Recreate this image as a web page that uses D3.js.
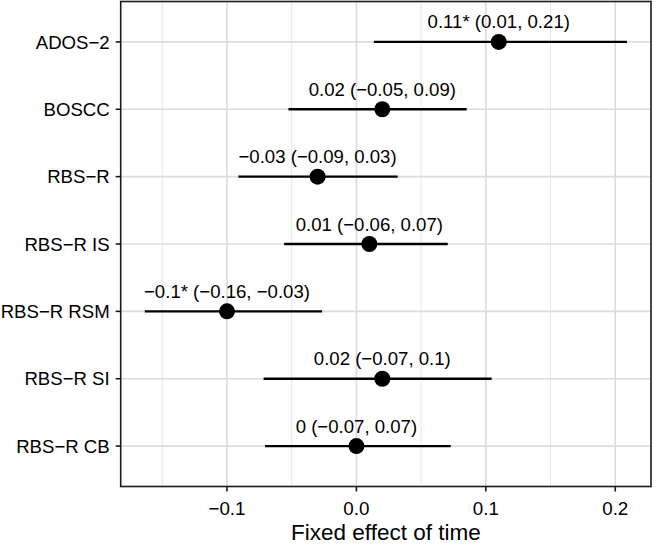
<!DOCTYPE html>
<html>
<head>
<meta charset="utf-8">
<script src="https://d3js.org/d3.v7.min.js"></script>
<style>
  body { margin: 0; background: #fff; }
  text { font-family: "Liberation Sans", Arial, sans-serif; fill: #000; }
</style>
</head>
<body>
<div id="chart"></div>
<script>
// outcome measures, top to bottom
const measures = ["ADOS\u22122", "BOSCC", "RBS\u2212R", "RBS\u2212R IS", "RBS\u2212R RSM", "RBS\u2212R SI", "RBS\u2212R CB"];
const estimates = [0.11, 0.02, -0.03, 0.01, -0.10, 0.02, 0.00];
const lowerCI = [0.0135, -0.0525, -0.0912, -0.0558, -0.1635, -0.0717, -0.0706];
const upperCI = [0.209, 0.0852, 0.0319, 0.0706, -0.0265, 0.1045, 0.0729];
const pointLabels = [
  "0.11* (0.01, 0.21)",
  "0.02 (\u22120.05, 0.09)",
  "\u22120.03 (\u22120.09, 0.03)",
  "0.01 (\u22120.06, 0.07)",
  "\u22120.1* (\u22120.16, \u22120.03)",
  "0.02 (\u22120.07, 0.1)",
  "0 (\u22120.07, 0.07)"
];
const xTicks = [-0.1, 0.0, 0.1, 0.2];
const xTickLabels = ["\u22120.1", "0.0", "0.1", "0.2"];
const xMinor = [-0.15, -0.05, 0.05, 0.15];
const xTitle = "Fixed effect of time";

const data = measures.map((m, i) => ({
  name: m, est: estimates[i], lo: lowerCI[i], hi: upperCI[i], label: pointLabels[i]
}));

const W = 656, H = 545;
const panel = { left: 120.7, right: 651, top: 1.5, bottom: 486.5 };

const svg = d3.select("#chart").append("svg")
  .attr("width", W).attr("height", H);

// ggplot-like 5% expansion of the data range
const lo = d3.min(lowerCI), hi = d3.max(upperCI);
const pad = (hi - lo) * 0.05;
const x = d3.scaleLinear().domain([lo - pad, hi + pad]).range([panel.left, panel.right]);
const y = d3.scalePoint().domain(measures).range([panel.top, panel.bottom]).padding(0.6);

// grid
const grid = svg.append("g");
grid.selectAll("line.minor").data(xMinor).join("line")
  .attr("x1", d => x(d)).attr("x2", d => x(d))
  .attr("y1", panel.top).attr("y2", panel.bottom)
  .attr("stroke", "#e6e6e6").attr("stroke-width", 1);
grid.selectAll("line.majx").data(xTicks).join("line")
  .attr("x1", d => x(d)).attr("x2", d => x(d))
  .attr("y1", panel.top).attr("y2", panel.bottom)
  .attr("stroke", "#dcdcdc").attr("stroke-width", 1.6);
grid.selectAll("line.majy").data(measures).join("line")
  .attr("x1", panel.left).attr("x2", panel.right)
  .attr("y1", d => y(d)).attr("y2", d => y(d))
  .attr("stroke", "#dcdcdc").attr("stroke-width", 1.6);

// intervals and points
const marks = svg.append("g");
marks.selectAll("line").data(data).join("line")
  .attr("x1", d => x(d.lo)).attr("x2", d => x(d.hi))
  .attr("y1", d => y(d.name)).attr("y2", d => y(d.name))
  .attr("stroke", "#000").attr("stroke-width", 2.4);
marks.selectAll("circle").data(data).join("circle")
  .attr("cx", d => x(d.est)).attr("cy", d => y(d.name))
  .attr("r", 8).attr("fill", "#000");
marks.selectAll("text").data(data).join("text")
  .attr("x", d => x(d.est)).attr("y", d => y(d.name) - 13.5)
  .attr("text-anchor", "middle")
  .style("font-size", "18.6px")
  .text(d => d.label);

// panel border
svg.append("rect")
  .attr("x", panel.left).attr("y", panel.top)
  .attr("width", panel.right - panel.left).attr("height", panel.bottom - panel.top)
  .attr("fill", "none").attr("stroke", "#1a1a1a").attr("stroke-width", 1.6);

// y axis
const yAxis = svg.append("g");
yAxis.selectAll("line").data(measures).join("line")
  .attr("x1", panel.left - 5).attr("x2", panel.left)
  .attr("y1", d => y(d)).attr("y2", d => y(d))
  .attr("stroke", "#1a1a1a").attr("stroke-width", 1.6);
yAxis.selectAll("text").data(measures).join("text")
  .attr("x", panel.left - 11).attr("y", d => y(d))
  .attr("dy", "0.36em")
  .attr("text-anchor", "end")
  .style("font-size", "18.6px")
  .text(d => d);

// x axis
const xAxis = svg.append("g");
xAxis.selectAll("line").data(xTicks).join("line")
  .attr("x1", d => x(d)).attr("x2", d => x(d))
  .attr("y1", panel.bottom).attr("y2", panel.bottom + 5)
  .attr("stroke", "#1a1a1a").attr("stroke-width", 1.6);
xAxis.selectAll("text").data(xTicks).join("text")
  .attr("x", d => x(d)).attr("y", 515)
  .attr("text-anchor", "middle")
  .style("font-size", "18.8px")
  .text((d, i) => xTickLabels[i]);

svg.append("text")
  .attr("x", (panel.left + panel.right) / 2).attr("y", 540)
  .attr("text-anchor", "middle")
  .style("font-size", "22.5px")
  .text(xTitle);
</script>
</body>
</html>
